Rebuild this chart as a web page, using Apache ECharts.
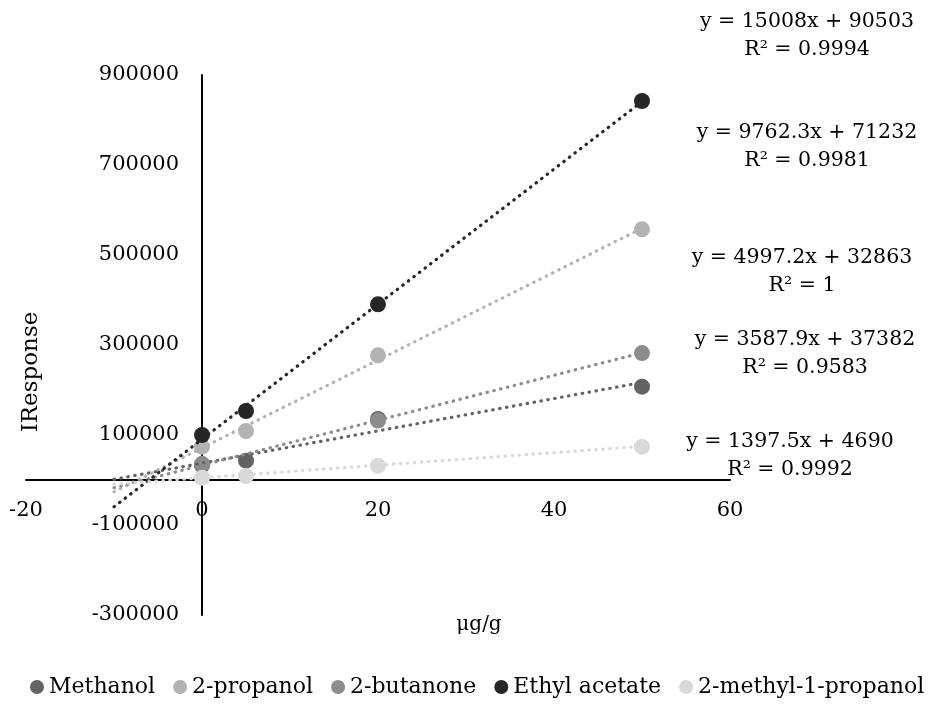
<!DOCTYPE html>
<html lang="en">
<head>
    <meta charset="UTF-8">
    <title>IResponse vs μg/g</title>
    <script src="https://cdn.jsdelivr.net/npm/echarts@6/dist/echarts.min.js"></script>
</head>
<body style="margin:0;">
    <div id="main" style="width:931px;height:704px;"></div>
</body>
<script type="text/javascript">
    // data
    var names = ['Methanol', '2-propanol', '2-butanone', 'Ethyl acetate', '2-methyl-1-propanol'];
    var colors = ['#636363', '#b3b3b3', '#8c8c8c', '#262626', '#d9d9d9'];
    var methanol = [[0, 32600], [5, 42900], [20, 135700], [50, 207400]];
    var propanol = [[0, 74000], [5, 108900], [20, 277000], [50, 557000]];
    var butanone = [[0, 36000], [20, 132000], [50, 282000]];
    var ethylAcetate = [[0, 100000], [5, 153300], [20, 390400], [50, 842200]];
    var methylPropanol = [[0, 5000], [5, 8900], [20, 31900], [50, 74100]];
    // trendline equations shown on the chart
    var slopes = [3587.9, 9762.3, 4997.2, 15008, 1397.5];
    var intercepts = [37382, 71232, 32863, 90503, 4690];
    var trendFrom = -10, trendTo = 50;
    var eqTexts = [
        'y = 3587.9x + 37382\nR² = 0.9583',
        'y = 9762.3x + 71232\nR² = 0.9981',
        'y = 4997.2x + 32863\nR² = 1',
        'y = 15008x + 90503\nR² = 0.9994',
        'y = 1397.5x + 4690\nR² = 0.9992'
    ];
    var eqPos = [[805, 326], [807, 119], [802, 244], [807, 8], [790, 428]];

    var font = 'DejaVu Serif';
    var allData = [methanol, propanol, butanone, ethylAcetate, methylPropanol];
    var series = [];
    for (var i = 0; i < names.length; i++) {
        series.push({
            name: names[i],
            type: 'scatter',
            symbolSize: 16,
            itemStyle: { color: colors[i], opacity: 1 },
            data: allData[i],
            z: 2
        });
    }
    // dotted linear trendlines, forecast 10 units backward
    for (var i = 0; i < names.length; i++) {
        series.push({
            name: names[i],
            type: 'line',
            showSymbol: false,
            silent: true,
            lineStyle: { color: colors[i], width: 3.2, type: [0.5, 6.5], cap: 'round' },
            data: [
                [trendFrom, slopes[i] * trendFrom + intercepts[i]],
                [trendTo, slopes[i] * trendTo + intercepts[i]]
            ],
            z: 3
        });
    }

    var graphics = [];
    for (var i = 0; i < eqTexts.length; i++) {
        graphics.push({
            type: 'text',
            x: eqPos[i][0],
            y: eqPos[i][1],
            style: {
                text: eqTexts[i],
                font: '20.5px "' + font + '"',
                lineHeight: 28,
                fill: '#000',
                textAlign: 'center',
                textVerticalAlign: 'top'
            }
        });
    }
    graphics.push({
        type: 'text', x: 31, y: 372, rotation: Math.PI / 2,
        style: { text: 'IResponse', font: '23px "' + font + '"', fill: '#000',
                 textAlign: 'center', textVerticalAlign: 'middle' }
    });
    graphics.push({
        type: 'text', x: 479, y: 625,
        style: { text: 'μg/g', font: '20px "' + font + '"', fill: '#000',
                 textAlign: 'center', textVerticalAlign: 'middle' }
    });

    var plain = function (v) { return String(v); };

    var myChart = echarts.init(document.getElementById('main'));
    var option = {
        animation: false,
        backgroundColor: '#fff',
        grid: { left: 26, right: 201, top: 75, bottom: 89, containLabel: false, outerBoundsMode: 'none' },
        legend: {
            data: names.map(function (n, k) { return { name: n, icon: 'circle', itemStyle: { color: colors[k] } }; }),
            left: 30,
            top: 676,
            padding: 0,
            itemWidth: 14,
            itemHeight: 14,
            itemGap: 18,
            textStyle: { fontFamily: font, fontSize: 22, color: '#000' }
        },
        xAxis: {
            type: 'value',
            min: -20,
            max: 60,
            interval: 20,
            offset: -135,   // x axis crosses at y = 0
            axisLine: { onZero: false, lineStyle: { color: '#000', width: 2 } },
            axisTick: { show: false },
            splitLine: { show: false },
            axisLabel: { margin: 20, fontFamily: font, fontSize: 21, color: '#000', formatter: plain }
        },
        yAxis: {
            type: 'value',
            min: -300000,
            max: 900000,
            interval: 200000,
            offset: -176,   // y axis crosses at x = 0
            axisLine: { show: true, onZero: false, lineStyle: { color: '#000', width: 2 } },
            axisTick: { show: false },
            splitLine: { show: false },
            axisLabel: { margin: 23, fontFamily: font, fontSize: 21, color: '#000', formatter: plain }
        },
        graphic: graphics,
        series: series
    };
    myChart.setOption(option);
</script>
</html>
